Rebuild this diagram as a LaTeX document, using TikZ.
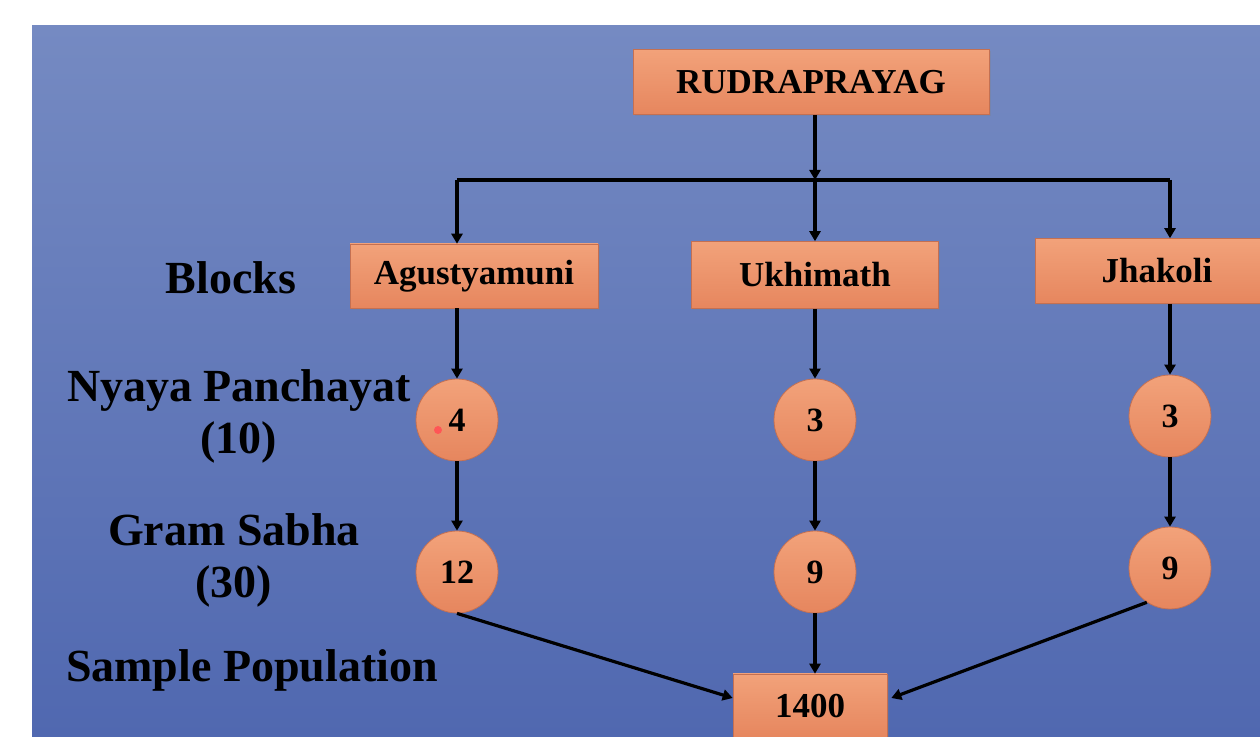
\documentclass[tikz,border=0pt]{standalone}
\usepackage{fontspec}
\setmainfont{Liberation Serif}
\usetikzlibrary{positioning,arrows.meta,shadows}
\definecolor{bgtop}{RGB}{117,138,194}
\definecolor{bgbot}{RGB}{80,104,176}
\definecolor{boxtop}{RGB}{242,162,122}
\definecolor{boxbot}{RGB}{230,134,94}
\definecolor{rim}{RGB}{196,112,82}

\begin{document}
\begin{tikzpicture}[x=0.5pt, y=-0.5pt, >={Triangle[length=5pt,width=5.5pt]},
  box/.style={rectangle, draw=rim, line width=0.3pt, top color=boxtop, bottom color=boxbot,
    font=\fontsize{17.5}{20}\selectfont\bfseries,
    drop shadow={opacity=0.25, shadow xshift=0.8pt, shadow yshift=-0.8pt}},
  disc/.style={circle, draw=rim, line width=0.4pt, top color=boxtop, bottom color=boxbot,
    minimum size=41pt, inner sep=0pt, font=\fontsize{17}{19}\selectfont\bfseries},
  lbl/.style={font=\fontsize{23}{26}\selectfont\bfseries, align=center},
  link/.style={line width=1.6pt}]
\useasboundingbox (0,0) rectangle (1260,737);
\clip (0,0) rectangle (1260,737);
\shade[top color=bgtop, bottom color=bgbot] (32,26) rectangle (1260,737);

% district and blocks
\node[box, minimum width=178pt, minimum height=32.5pt] (root) at (811,82) {RUDRAPRAYAG};
\node[box, minimum width=124pt, minimum height=32pt] (agus) at (474,276) {Agustyamuni};
\node[box, minimum width=123.5pt, minimum height=33.5pt] (ukhi) at (815,275) {Ukhimath};
\node[box, minimum width=122pt, minimum height=32.5pt] (jhak) at (1157,271) {Jhakoli};

% nyaya panchayat and gram sabha
\node[disc] (n4) at (457,420) {4};
\node[disc] (n3a) at (815,420) {3};
\node[disc] (n3b) at (1170,416) {3};
\node[disc] (n12) at (457,572) {12};
\node[disc] (n9a) at (815,572) {9};
\node[disc] (n9b) at (1170,568) {9};
\node[box, minimum width=77pt, minimum height=32pt] (total) at (810,706) {1400};
\fill[red!55!pink] ([xshift=-9.5pt,yshift=-5pt]n4.center) circle (2pt);

% row labels
\node[lbl] (lblblocks) at (231,278) {Blocks};
\node[lbl] (lblnyaya) at (239,416) {Nyaya Panchayat\\(10)};
\node[lbl] (lblgram) at (234,560) {Gram Sabha\\(30)};
\node[lbl] (lblsample) at (252,670) {Sample Population};

\coordinate (hub) at (815,180);
\draw[link,->] (root.south -| hub) -- (hub);
\draw[link] (hub -| n4) -- (hub -| n3b);
\draw[link,->] (hub -| n4) -- (agus.north -| n4);
\draw[link,->] (hub) -- (ukhi.north);
\draw[link,->] (hub -| n3b) -- (jhak.north -| n3b);
\draw[link,->] (agus.south -| n4) -- (n4);
\draw[link,->] (ukhi.south) -- (n3a);
\draw[link,->] (jhak.south -| n3b) -- (n3b);
\draw[link,->] (n4) -- (n12);
\draw[link,->] (n3a) -- (n9a);
\draw[link,->] (n3b) -- (n9b);
\draw[link,->] (n12.south) -- ([yshift=4pt]total.west);
\draw[link,->] (n9a) -- (total.north -| n9a);
\draw[link,->] (n9b.-124) -- ([yshift=4pt,xshift=2pt]total.east);
\end{tikzpicture}
\end{document}
